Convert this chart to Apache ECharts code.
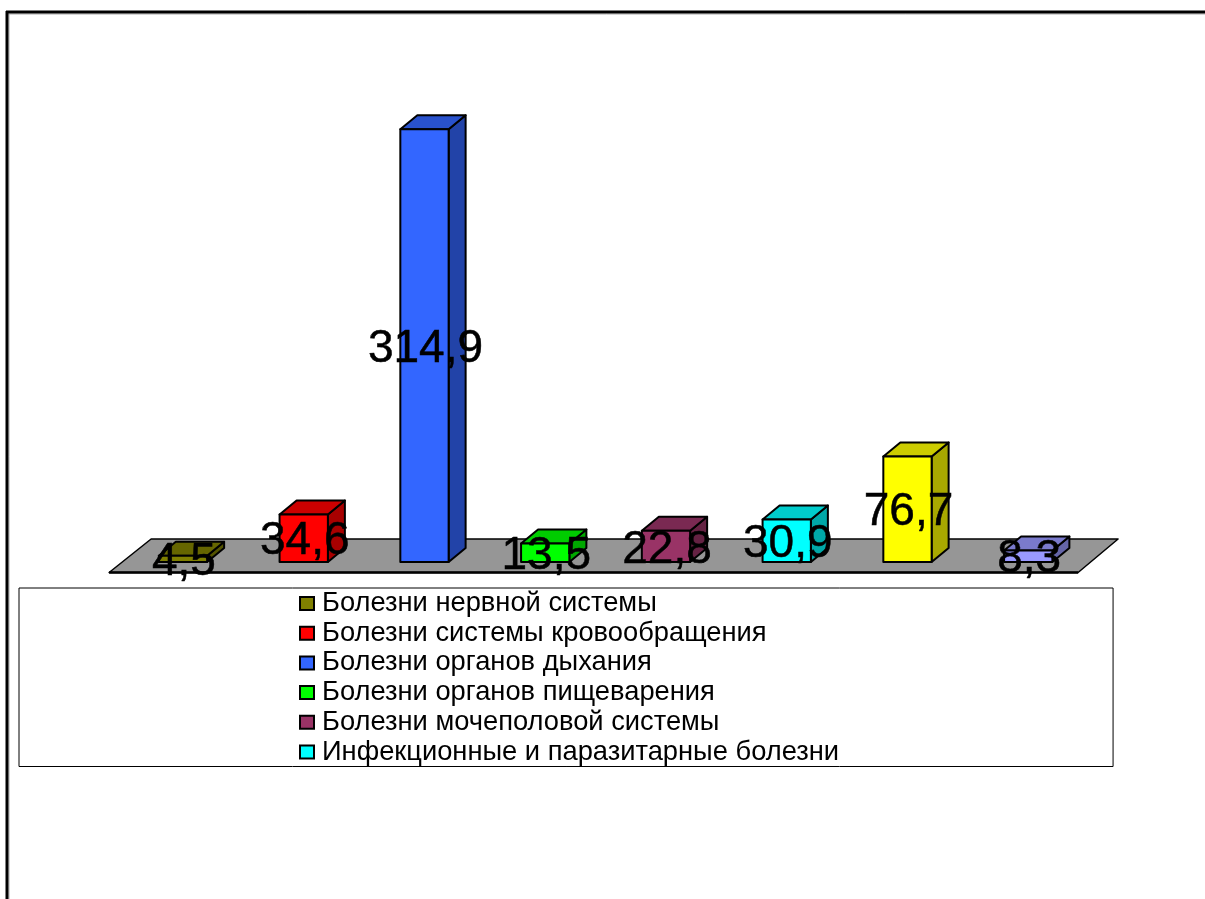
<!DOCTYPE html>
<html><head><meta charset="utf-8">
<style>html,body{margin:0;padding:0;background:#fff}#c{width:1205px;height:899px}</style>
<script src="https://cdn.jsdelivr.net/npm/echarts@6/dist/echarts.min.js"></script>
</head><body><div id="c"></div>
<script>
const categories = ['Болезни нервной системы','Болезни системы кровообращения','Болезни органов дыхания','Болезни органов пищеварения','Болезни мочеполовой системы','Инфекционные и паразитарные болезни','Новообразования','Прочие болезни'];
const legendNames = categories.slice(0,6);
const values = [4.5,34.6,314.9,13.5,22.8,30.9,76.7,8.3];
const valueLabels = ['4,5','34,6','314,9','13,5','22,8','30,9','76,7','8,3'];
const colors = ['#808000','#FF0000','#3366FF','#00FF00','#993366','#00FFFF','#FFFF00','#9999FF'];

const FONT = '"Liberation Sans", Arial, sans-serif';
const DX = 17, DY = -14;
function shade(hex,f){
  const n=parseInt(hex.slice(1),16);
  return 'rgb('+[(n>>16)&255,(n>>8)&255,n&255].map(v=>Math.round(v*f)).join(',')+')';
}
const S = {stroke:'#000',lineWidth:2,lineJoin:'round'};
function poly(points,fill,z2){
  return {type:'polygon',shape:{points},style:Object.assign({fill},S),z2};
}
function barRender(i){
  return function(params,api){
    const idx=api.value(0), val=api.value(1);
    const base=api.coord([idx,0]), top=api.coord([idx,val]);
    const w=api.size([1,0])[0]*0.4;
    const x0=base[0]-w/2, x1=base[0]+w/2, yb=base[1], yt=top[1];
    return {type:'group',children:[
      poly([[x1,yb],[x1+DX,yb+DY],[x1+DX,yt+DY],[x1,yt]],shade(colors[i],0.66),1),
      poly([[x0,yt],[x0+DX,yt+DY],[x1+DX,yt+DY],[x1,yt]],shade(colors[i],0.8),1),
      poly([[x0,yb],[x1,yb],[x1,yt],[x0,yt]],colors[i],2),
      {type:'text',z2:20,style:{text:valueLabels[i],x:base[0]+1,y:(yb+yt)/2+3.5,align:'center',verticalAlign:'middle',
        font:'46px '+FONT,fill:'#000',stroke:'#000',lineWidth:0.5}}
    ]};
  };
}
function floorRender(params,api){
  const gridLeft=params.coordSys.x, gridW=params.coordSys.width, y=api.coord([0,0])[1];
  const fl=gridLeft-13.5, fr=gridLeft+gridW-10.5, yf=y+10.5, yk=y-23;
  return {type:'group',children:[
    {type:'polygon',shape:{points:[[fl,yf],[fl+42,yk],[fr+40,yk],[fr,yf]]},style:{fill:'#969696',stroke:'#000',lineWidth:1.5,lineJoin:'round'}},
    {type:'line',shape:{x1:fl,y1:yf,x2:fr,y2:yf},style:{stroke:'#000',lineWidth:2.5}}
  ]};
}
const series=[{type:'custom',name:'floor',silent:true,z:1,data:[[0,0]],renderItem:floorRender,encode:{x:0,y:1},tooltip:{show:false}}];
categories.forEach((n,i)=>series.push({
  type:'custom',name:n,z:2,itemStyle:{color:colors[i]},
  data:[[i,values[i]]],encode:{x:0,y:1},renderItem:barRender(i)
}));

const chart=echarts.init(document.getElementById('c'),null,{renderer:'canvas'});
chart.setOption({
  animation:false,
  backgroundColor:'#fff',
  grid:{left:122.6,width:966,top:81,height:481,containLabel:false},
  xAxis:{type:'category',data:categories,show:false,boundaryGap:true},
  yAxis:{type:'value',min:0,max:350,show:false},
  legend:{
    data:legendNames,orient:'vertical',left:19,top:588,
    padding:[1,274,0,280],itemGap:0.7,itemWidth:14,itemHeight:13,icon:'rect',
    borderColor:'#000',borderWidth:1,backgroundColor:'#fff',selectedMode:false,
    itemStyle:{borderColor:'#000',borderWidth:2},
    textStyle:{fontFamily:FONT,fontSize:27.3,color:'#000',lineHeight:26,padding:[3,0,0,3]}
  },
  series,
  graphic:[
    {type:'line',shape:{x1:8,y1:14,x2:1205,y2:14},style:{stroke:'#aaa',lineWidth:1},z:0},
    {type:'line',shape:{x1:9,y1:14,x2:9,y2:899},style:{stroke:'#aaa',lineWidth:1},z:0},
    {type:'line',shape:{x1:6,y1:12,x2:1205,y2:12},style:{stroke:'#000',lineWidth:3},z:0},
    {type:'line',shape:{x1:7,y1:11,x2:7,y2:899},style:{stroke:'#000',lineWidth:3},z:0}
  ]
});
</script></body></html>
